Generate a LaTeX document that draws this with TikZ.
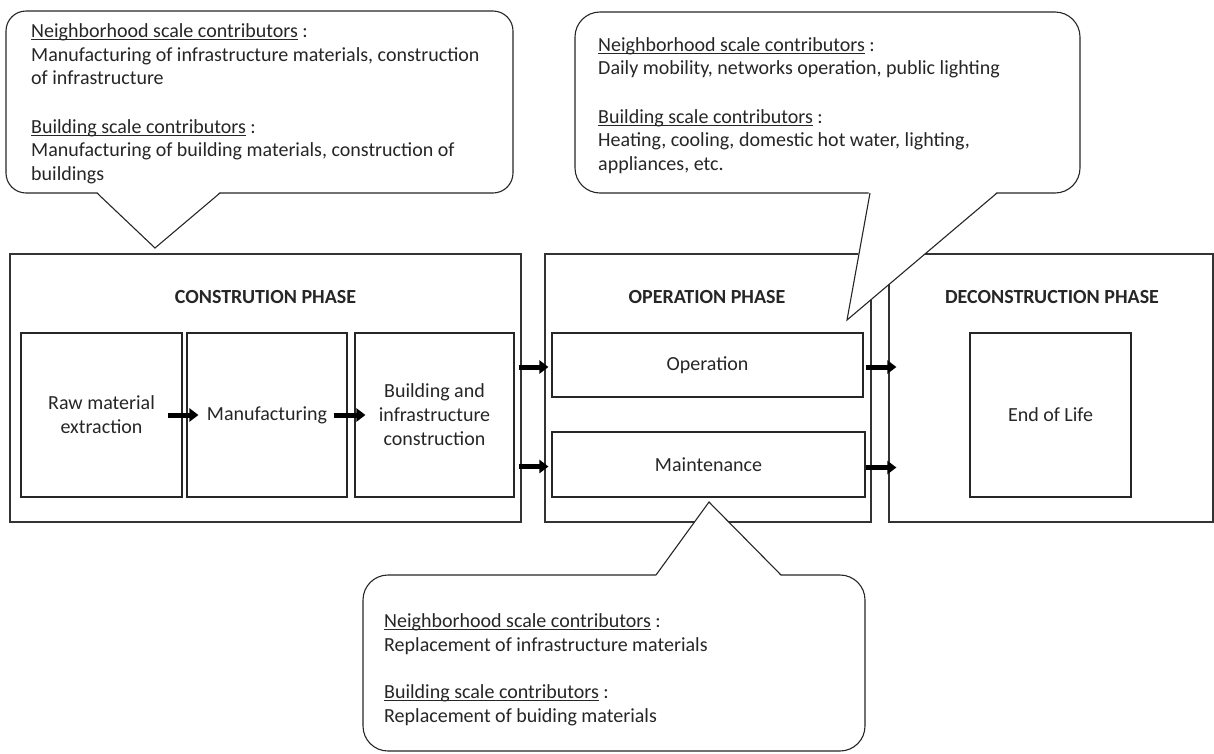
\documentclass[tikz,border=0pt]{standalone}
\usepackage{fontspec}
\setmainfont{Carlito}
\usepackage{tikz}
\usetikzlibrary{calc,arrows.meta}

\newlength{\ulen}
\newcommand{\ulined}[1]{\settowidth{\ulen}{#1}\rlap{\rule[-2.8pt]{\ulen}{1pt}}#1}

\tikzset{
  phasebox/.style={draw=black!80, line width=1.2pt, inner sep=0pt},
  stagebox/.style={draw=black!85, line width=1.1pt, inner sep=0pt, align=center,
    text=black!85, font=\fontsize{20}{24}\selectfont},
  phasetitle/.style={font=\fontsize{20}{24}\selectfont\bfseries, text=black!85},
  blockarrow/.style={line width=5pt, black, -{Triangle[length=9pt,width=13pt]}},
  bubble/.style={draw=black!85, line width=1.1pt, fill=white},
  bubbletext/.style={anchor=base west, inner sep=0pt, align=left, text=black!85,
    font=\fontsize{20}{23.5}\selectfont}
}

\begin{document}
\begin{tikzpicture}[x=1pt,y=-1pt]

\useasboundingbox (0,0) rectangle (1214,753);

% phase frames
\node[phasebox, minimum width=511pt, minimum height=268pt] (conphase) at (265.5,388) {};
\node[phasebox, minimum width=326pt, minimum height=268pt] (opphase) at (708,388) {};
\node[phasebox, minimum width=324pt, minimum height=268pt] (decphase) at (1051,388) {};

\node[phasetitle] (contitle) at (265.5,297) {CONSTRUTION PHASE};
\node[phasetitle] (optitle) at (707,297) {OPERATION PHASE};
\node[phasetitle] (dectitle) at (1052,297) {DECONSTRUCTION PHASE};

% construction stages
\node[stagebox, minimum width=161pt, minimum height=164pt] (raw) at (101.5,415) {Raw material\\extraction};
\node[stagebox, minimum width=160pt, minimum height=164pt] (manuf) at (267,415) {Manufacturing};
\node[stagebox, minimum width=159pt, minimum height=164pt] (build) at (434.5,415) {Building and\\infrastructure\\construction};

% operation stages
\node[stagebox, minimum width=311pt, minimum height=64pt] (oper) at (707.5,365) {Operation};
\node[stagebox, minimum width=313pt, minimum height=65pt] (maint) at (708.5,464.5) {Maintenance};

% deconstruction stage
\node[stagebox, minimum width=161pt, minimum height=164pt] (eol) at (1050.5,415) {End of Life};

% arrows
\draw[blockarrow] ([xshift=-15pt]raw.east) -- ([xshift=12pt]manuf.west);
\draw[blockarrow] ([xshift=-14pt]manuf.east) -- ([xshift=11pt]build.west);
\draw[blockarrow] ($(build.east |- oper.west)+(4,2)$) -- ($(oper.west)+(-3,2)$);
\draw[blockarrow] ($(build.east |- maint.west)+(4,2)$) -- ($(maint.west)+(-3,2)$);
\draw[blockarrow] ($(oper.east)+(2,2)$) -- ($(decphase.west |- oper.east)+(8,2)$);
\draw[blockarrow] ($(maint.east)+(0,3)$) -- ($(decphase.west |- maint.east)+(8,3)$);

% top left callout
\coordinate (contip) at (155,248);
\draw[bubble, rounded corners=20pt] (6,11) rectangle (513,193);
\fill[white] (96,191) -- (contip) -- (221,191) -- cycle;
\draw[bubble, fill=none] (97,193) -- (contip) -- (220,193);
\node[bubbletext] (context) at (31,180) {\ulined{Neighborhood scale contributors} :\\
Manufacturing of infrastructure materials, construction\\
of infrastructure\\[25pt]
\ulined{Building scale contributors} :\\
Manufacturing of building materials, construction of\\
buildings};

% top right callout
\coordinate (optip) at (847,320);
\draw[bubble, rounded corners=25pt] (575,12) rectangle (1080,193);
\fill[white] (869,191) -- (optip) -- (998,191) -- cycle;
\draw[bubble, fill=none] (870,193) -- (optip) -- (997,193);
\node[bubbletext] (optext) at (598,170) {\ulined{Neighborhood scale contributors} :\\
Daily mobility, networks operation, public lighting\\[25pt]
\ulined{Building scale contributors} :\\
Heating, cooling, domestic hot water, lighting,\\
appliances, etc.};

% bottom callout
\coordinate (mttip) at (709,502);
\draw[bubble, rounded corners=25pt] (363,575) rectangle (865,751);
\fill[white] (655,577) -- (mttip) -- (782,577) -- cycle;
\draw[bubble, fill=none] (656,575) -- (mttip) -- (781,575);
\node[bubbletext] (mttext) at (384,722) {\ulined{Neighborhood scale contributors} :\\
Replacement of infrastructure materials\\[24pt]
\ulined{Building scale contributors} :\\
Replacement of buiding materials};

\end{tikzpicture}
\end{document}
